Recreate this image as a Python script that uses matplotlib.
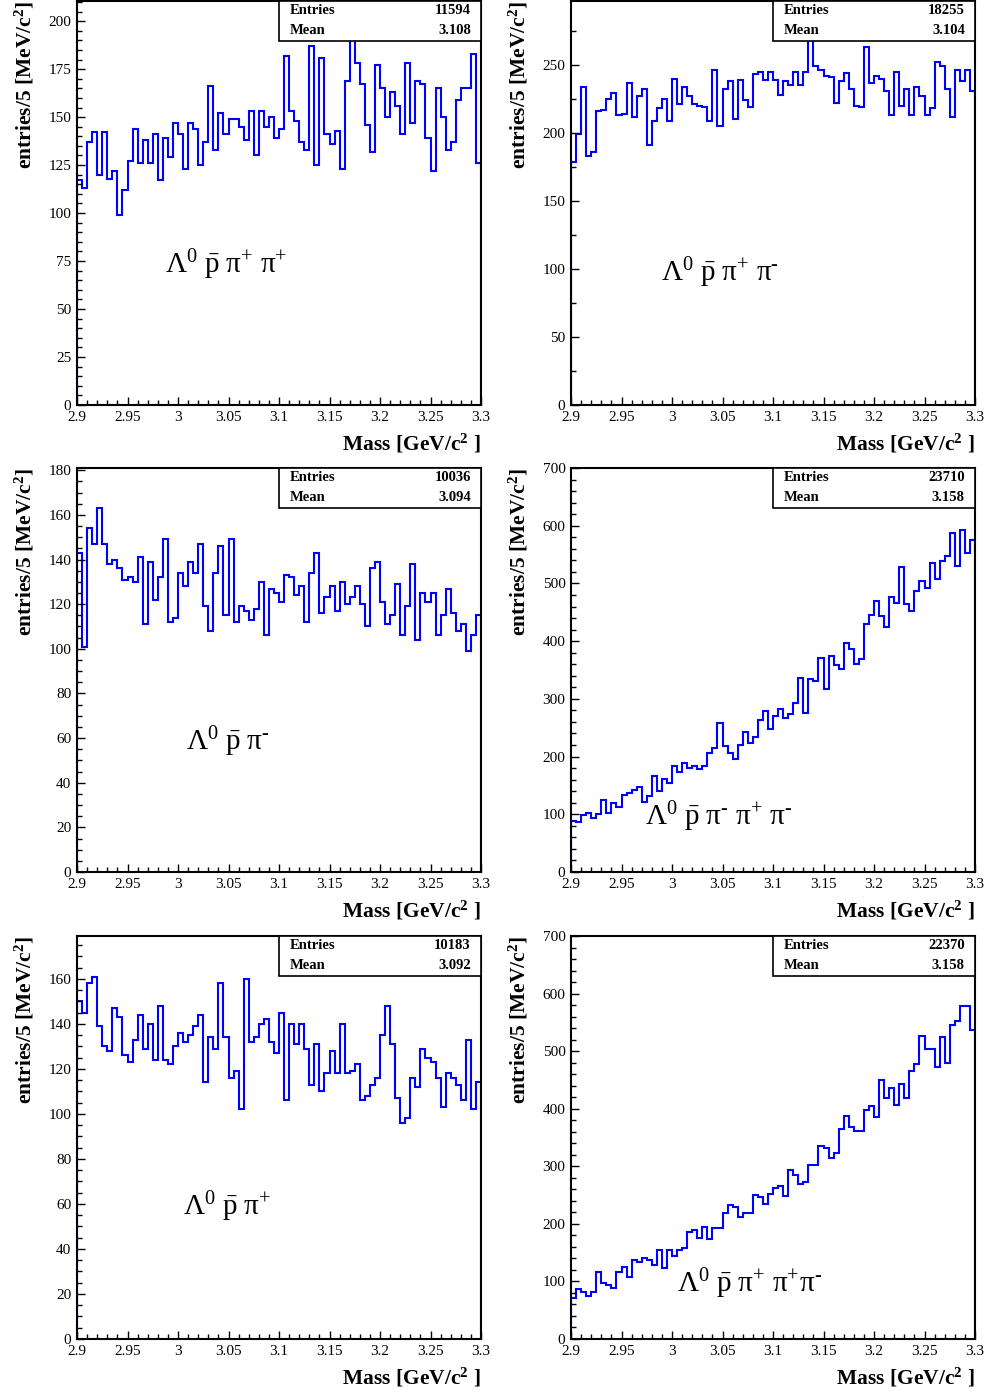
import numpy as np
import matplotlib
matplotlib.use('Agg')
import matplotlib.pyplot as plt
from matplotlib.ticker import MultipleLocator, FuncFormatter
from matplotlib.patches import Rectangle

plt.rcParams['font.family'] = ['Liberation Serif', 'DejaVu Serif']
plt.rcParams['mathtext.fontset'] = 'custom'
plt.rcParams['mathtext.rm'] = 'Liberation Serif'
plt.rcParams['mathtext.it'] = 'Liberation Serif:italic'
plt.rcParams['mathtext.bf'] = 'Liberation Serif:bold'
plt.rcParams['mathtext.default'] = 'regular'

# 80 bins of 5 MeV between 2.9 and 3.3 GeV
edges = np.linspace(2.9, 3.3, 81)

# counts per bin
h_ppp = [117, 113, 137, 142, 120, 142, 118, 122, 99, 112,
         127, 144, 126, 138, 126, 141, 117, 139, 129, 147,
         141, 123, 147, 144, 125, 137, 166, 133, 152, 141,
         149, 149, 145, 138, 153, 130, 153, 145, 150, 139,
         144, 182, 153, 148, 137, 133, 187, 125, 181, 141,
         136, 143, 123, 169, 190, 178, 167, 146, 132, 177,
         165, 150, 163, 156, 141, 178, 147, 169, 167, 139,
         122, 165, 150, 133, 137, 159, 165, 165, 183, 126]

h_ppm = [179, 199, 234, 183, 186, 216, 217, 225, 229, 213,
         214, 237, 212, 227, 232, 191, 209, 218, 225, 209,
         240, 221, 234, 227, 221, 220, 219, 209, 246, 205,
         232, 238, 210, 239, 224, 219, 243, 245, 239, 245,
         239, 228, 238, 235, 245, 235, 245, 268, 249, 246,
         242, 241, 222, 238, 244, 232, 220, 219, 263, 237,
         242, 240, 231, 213, 245, 220, 232, 213, 234, 227,
         213, 218, 252, 249, 232, 212, 246, 238, 246, 231]

h_pm = [143, 101, 154, 147, 163, 147, 138, 140, 136, 131,
        132, 130, 141, 111, 139, 122, 132, 149, 112, 114,
        134, 128, 139, 134, 147, 119, 108, 134, 146, 115,
        149, 112, 119, 117, 113, 118, 130, 106, 127, 125,
        121, 133, 132, 124, 128, 112, 134, 143, 116, 123,
        128, 117, 130, 120, 123, 128, 120, 110, 136, 139,
        121, 111, 115, 129, 106, 119, 138, 104, 125, 121,
        125, 106, 115, 127, 116, 108, 111, 99, 106, 115]

h_pmpm = [89, 86, 99, 103, 93, 101, 125, 103, 120, 112,
          134, 137, 142, 148, 122, 132, 167, 141, 161, 154,
          183, 173, 188, 181, 183, 178, 184, 206, 214, 258,
          219, 207, 196, 220, 243, 224, 234, 263, 279, 248,
          271, 282, 266, 273, 292, 337, 276, 335, 331, 371,
          317, 374, 359, 352, 397, 386, 361, 369, 430, 445,
          469, 443, 425, 477, 466, 529, 464, 452, 487, 504,
          492, 536, 508, 539, 547, 588, 530, 593, 552, 575]

h_pp = [150, 145, 158, 161, 139, 130, 128, 147, 143, 126,
        123, 133, 144, 129, 140, 124, 148, 124, 122, 130,
        136, 132, 135, 139, 144, 114, 134, 129, 158, 134,
        116, 119, 102, 160, 132, 134, 140, 142, 132, 127,
        145, 106, 140, 131, 140, 129, 113, 131, 110, 118,
        128, 118, 140, 118, 119, 122, 106, 108, 113, 116,
        135, 148, 131, 107, 96, 98, 116, 112, 129, 125,
        123, 116, 103, 118, 116, 113, 106, 133, 102, 114]

h_pppm = [72, 86, 82, 74, 81, 117, 98, 94, 89, 117,
          125, 107, 138, 133, 141, 138, 129, 155, 124, 154,
          145, 154, 158, 186, 189, 176, 195, 174, 192, 193,
          218, 232, 229, 212, 218, 218, 250, 246, 235, 251,
          262, 265, 248, 293, 284, 269, 272, 303, 303, 335,
          332, 315, 323, 365, 387, 368, 362, 362, 397, 404,
          386, 450, 419, 436, 407, 443, 419, 466, 477, 526,
          503, 503, 472, 525, 479, 545, 552, 578, 578, 536]

hists   = [h_ppp, h_ppm, h_pm, h_pmpm, h_pp, h_pppm]
entries = ['11594', '18255', '10036', '23710', '10183', '22370']
means   = ['3.108', '3.104', '3.094', '3.158', '3.092', '3.158']
labels  = [r'$\Lambda^{0}\ \bar{p}\ \pi^{+}\ \pi^{+}$',
           r'$\Lambda^{0}\ \bar{p}\ \pi^{+}\ \pi^{\text{-}}$',
           r'$\Lambda^{0}\ \bar{p}\ \pi^{\text{-}}$',
           r'$\Lambda^{0}\ \bar{p}\ \pi^{\text{-}}\ \pi^{+}\ \pi^{\text{-}}$',
           r'$\Lambda^{0}\ \bar{p}\ \pi^{+}$',
           r'$\Lambda^{0}\ \bar{p}\ \pi^{+}\ \pi^{+}\pi^{\text{-}}$']

# layout (figure pixels 991 x 1393)
W, H = 991., 1393.
cols = [77, 571]
rows = [(1, 405), (468, 872), (936, 1339)]
ymax  = [210.5, 297, 181, 700, 179, 700]
major = [25, 50, 20, 100, 20, 100]
minor = [5, 25, 5, 20, 5, 20]
lab_pos = [(0.217, 0.327), (0.223, 0.307), (0.269, 0.302),
           (0.183, 0.116), (0.262, 0.308), (0.262, 0.117)]

fig = plt.figure(figsize=(9.91, 13.93), dpi=100)

for i, h in enumerate(hists):
    r, c = divmod(i, 2)
    top, bot = rows[r]
    ax = fig.add_axes([cols[c]/W, 1 - bot/H, 404/W, (bot - top)/H])
    ax.stairs(h, edges, baseline=0, color='blue', lw=1.5)
    ax.set_xlim(2.9, 3.3)
    ax.set_ylim(0, ymax[i])

    ax.xaxis.set_major_locator(MultipleLocator(0.05))
    ax.xaxis.set_minor_locator(MultipleLocator(0.01))
    ax.xaxis.set_major_formatter(FuncFormatter(lambda v, p: '%g' % round(v, 3)))
    ax.yaxis.set_major_locator(MultipleLocator(major[i]))
    ax.yaxis.set_minor_locator(MultipleLocator(minor[i]))
    ax.tick_params(which='both', direction='in', top=False, right=False,
                   labelsize=11, width=1)
    ax.tick_params(which='major', length=6, pad=4)
    ax.tick_params(which='minor', length=3.5)
    for s in ax.spines.values():
        s.set_linewidth(1.5)

    # stats box
    ax.add_patch(Rectangle((0.5, 0.9), 0.5, 0.1, transform=ax.transAxes,
                           facecolor='white', edgecolor='black', lw=1.2,
                           zorder=5, clip_on=False))
    ax.text(0.526, 0.976, 'Entries', transform=ax.transAxes, ha='left',
            va='center', fontsize=10.5, fontweight='bold', zorder=6)
    ax.text(0.975, 0.976, entries[i], transform=ax.transAxes, ha='right',
            va='center', fontsize=10.5, fontweight='bold', zorder=6)
    ax.text(0.526, 0.927, 'Mean', transform=ax.transAxes, ha='left',
            va='center', fontsize=10.5, fontweight='bold', zorder=6)
    ax.text(0.975, 0.927, means[i], transform=ax.transAxes, ha='right',
            va='center', fontsize=10.5, fontweight='bold', zorder=6)

    ax.text(lab_pos[i][0], lab_pos[i][1], labels[i], transform=ax.transAxes,
            ha='left', va='baseline', fontsize=21)

    ax.text(1.0, -0.095, r'Mass [GeV/c$^{\mathbf{2}}$ ]', transform=ax.transAxes,
            ha='right', va='center', fontsize=15.5, fontweight='bold')
    ax.text(-0.13, 1.0, r'entries/5 [MeV/c$^{\mathbf{2}}$]', transform=ax.transAxes,
            rotation=90, ha='center', va='top', fontsize=15.5, fontweight='bold')

fig.savefig('out.png', dpi=100)
